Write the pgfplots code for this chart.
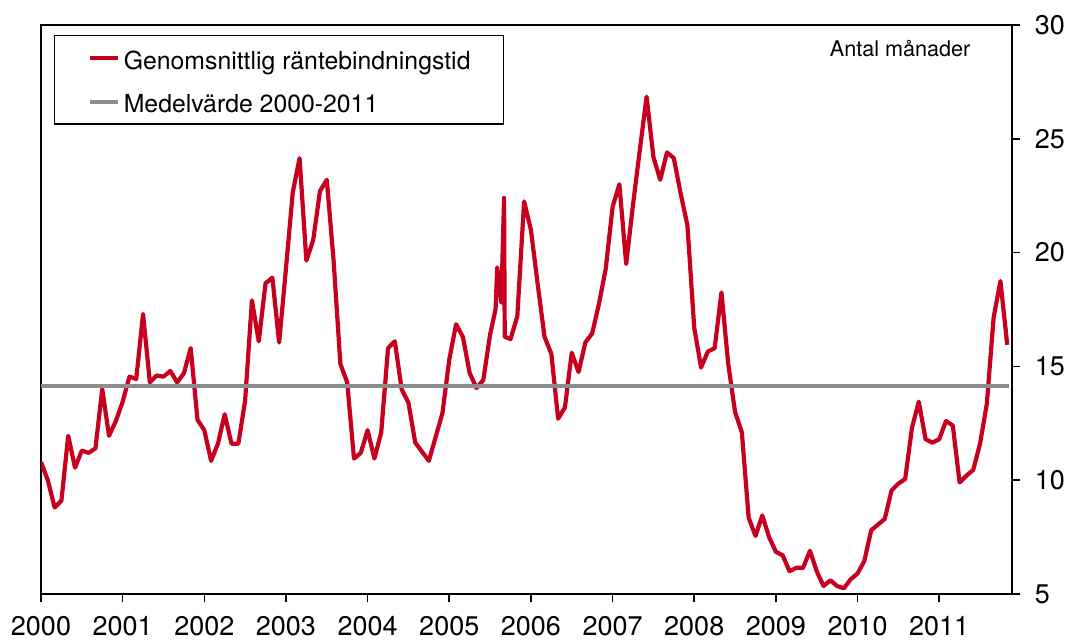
\documentclass[border=0pt]{standalone}
\usepackage{fontspec}
\setmainfont{TeX Gyre Heros}
\usepackage{pgfplots}
\pgfplotsset{compat=1.18}
\definecolor{rbred}{RGB}{198,0,30}
\definecolor{rbgray}{RGB}{140,140,140}
\begin{document}
\begin{tikzpicture}
\begin{axis}[
  scale only axis, width=485.5pt, height=284.5pt,
  xmin=0, xmax=142.7, ymin=5, ymax=30,
  xtick={0,12,24,36,48,60,72,84,96,108,120,132},
  xticklabels={2000,2001,2002,2003,2004,2005,2006,2007,2008,2009,2010,2011},
  ytick={5,10,15,20,25,30},
  xtick pos=bottom, ytick pos=right, yticklabel pos=right,
  tick align=outside, major tick length=4.2pt,
  tick style={black, line width=0.8pt},
  axis line style={line width=0.8pt},
  ticklabel style={font=\fontsize{13.5}{16}\selectfont},
  /pgf/number format/assume math mode=true,
  yticklabel style={anchor=west, inner sep=0pt},
  xticklabel style={anchor=base, inner sep=0pt},
  xticklabel shift=16.5pt,
  yticklabel shift=7pt,
  legend cell align=left,
  legend style={at={(rel axis cs:0.0134,0.9824)}, anchor=north west,
    draw=black, line width=0.6pt, inner xsep=16.5pt, inner ysep=2.8pt,
    row sep=4.8pt,
    font=\fontsize{12.4}{14}\selectfont,
    nodes={inner sep=0pt, text height=13.9pt, text depth=3pt}},
  legend image code/.code={\draw[#1] (0pt,0pt) -- (14pt,0pt); \path (16pt,0pt);},
]
\addplot[rbred, line width=2.1pt, line join=round] coordinates {
(0,10.8) (1,10.0) (2,8.8) (3,9.1) (4,11.95) (5,10.55) (6,11.3) (7,11.2) (8,11.4) (9,14.0) (10,11.95) (11,12.6)
(12,13.45) (13,14.55) (14,14.45) (15,17.3) (16,14.3) (17,14.6) (18,14.55) (19,14.8) (20,14.3) (21,14.7) (22,15.8) (23,12.65)
(24,12.2) (25,10.85) (26,11.6) (27,12.9) (28,11.6) (29,11.6) (30,13.5) (31,17.9) (32,16.1) (33,18.65) (34,18.9) (35,16.05)
(36,19.3) (37,22.65) (38,24.15) (39,19.65) (40,20.55) (41,22.7) (42,23.2) (43,19.65) (44,15.1) (45,14.3) (46,10.95) (47,11.2)
(48,12.2) (49,10.95) (50,12.1) (51,15.8) (52,16.1) (53,14.0) (54,13.4) (55,11.65) (56,11.25) (57,10.85) (58,11.9) (59,12.95)
(60,15.3) (61,16.85) (62,16.3) (63,14.7) (64,14.05) (65,14.4) (66,16.4) (66.8,17.5) (67.05,19.35) (67.65,17.8) (68.05,22.4) (68.15,16.3)
(69,16.2) (70,17.2) (71,22.25)
(72,21.0) (73,18.6) (74,16.3) (75,15.55) (76,12.7) (77,13.2) (78,15.6) (79,14.75) (80,16.05) (81,16.45) (82,17.75) (83,19.3)
(84,22.0) (85,23.0) (86,19.5) (87,22.1) (88,24.5) (89,26.85) (90,24.2) (91,23.2) (92,24.4) (93,24.15) (94,22.6) (95,21.2)
(96,16.7) (97,14.95) (98,15.65) (99,15.8) (100,18.25) (101,15.1) (102,13.0) (103,12.1) (104,8.35) (105,7.55) (106,8.45) (107,7.5)
(108,6.85) (109,6.7) (110,6.0) (111,6.15) (112,6.15) (113,6.9) (114,6.0) (115,5.35) (116,5.6) (117,5.35) (118,5.25) (119,5.65)
(120,5.9) (121,6.45) (122,7.8) (123,8.05) (124,8.3) (125,9.55) (126,9.85) (127,10.05) (128,12.3) (129,13.45) (130,11.8) (131,11.65)
(132,11.8) (133,12.6) (134,12.4) (135,9.9) (136,10.2) (137,10.45) (138,11.6) (139,13.35) (140,17.15) (141,18.75) (142,15.95)
};
\addlegendentry{Genomsnittlig räntebindningstid}
\addplot[rbgray, line width=2pt] coordinates {(0,14.12) (142.2,14.12)};
\addlegendentry{Medelvärde 2000-2011}
\node[anchor=base east, inner sep=0pt, font=\fontsize{10.8}{13}\selectfont] at (rel axis cs:0.9575,0.9443) {Antal månader};
\end{axis}
\pgfresetboundingbox
\path ([shift={(-20.5pt,-24pt)}]current axis.south west) rectangle ([shift={(26.5pt,12.5pt)}]current axis.north east);
\end{tikzpicture}
\end{document}
